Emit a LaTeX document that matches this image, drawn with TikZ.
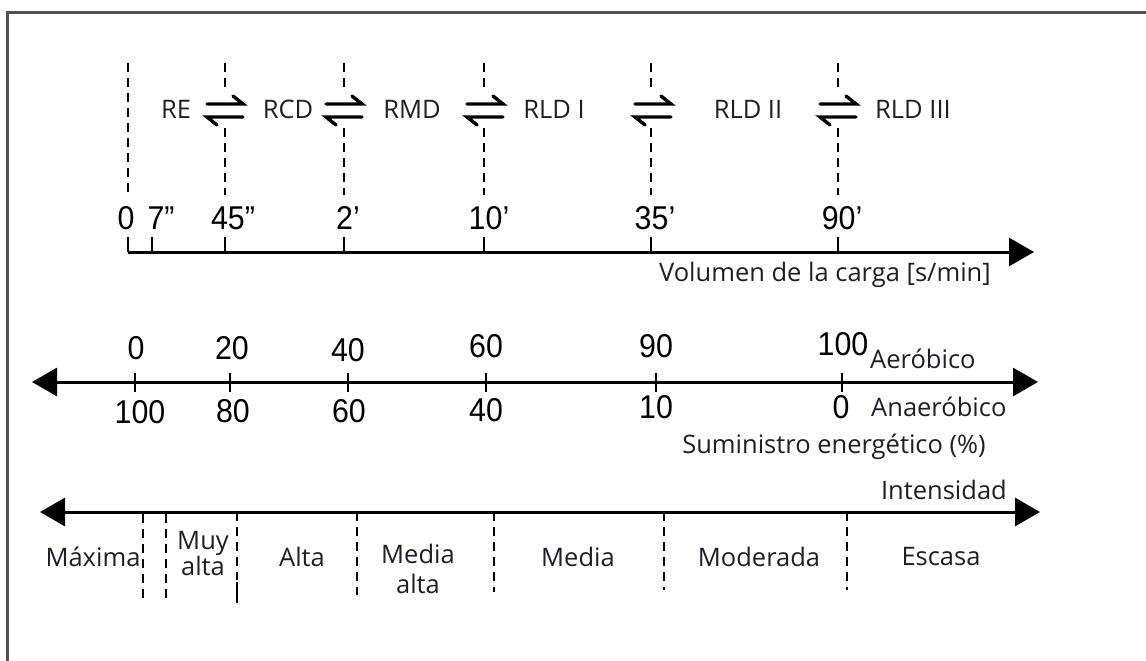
\documentclass[tikz,border=0pt]{standalone}
\usepackage{fontspec}
\setmainfont{Open Sans}
\newfontfamily\numfont[FakeStretch=0.92]{Liberation Sans}
\usetikzlibrary{arrows.meta}

\definecolor{ink}{HTML}{1E1E28}
\definecolor{frame}{HTML}{505050}

\begin{document}
\begin{tikzpicture}[x=1pt,y=-1pt,
  axisline/.style={line width=3pt,draw=black},
  onearrow/.style={-{Triangle[length=25pt,width=28pt]}},
  twoarrows/.style={{Triangle[length=25pt,width=28pt]}-{Triangle[length=25pt,width=28pt]}},
  tick/.style={line width=2.8pt,draw=black},
  dashline/.style={line width=2.8pt,draw=black,dash pattern=on 9pt off 6pt},
  harp/.style={line width=3.4pt,draw=black,line cap=round},
  num/.style={font=\fontsize{33}{35}\selectfont\numfont,text=black,inner sep=0pt},
  lbl/.style={font=\fontsize{25.5}{31}\selectfont,text=ink,inner sep=0pt,align=center},
]
\useasboundingbox (0,0) rectangle (1146,661);
% frame
\draw[line width=3pt,draw=frame] (7,661) -- (7,13) -- (1146,13);

% ---------------- load volume axis ----------------
\coordinate (v0) at (128,252);
\coordinate (vend) at (1034,252);
\draw[axisline,onearrow] (v0) -- (vend);
\foreach \x in {128,152,225,344,484,651,838}
  \draw[tick] (\x,252) -- (\x,237);

\node[num] (n0)  at (126,218) {0};
\node[num] (n7)  at (161,218) {7”};
\node[num] (n45) at (233,218) {45”};
\node[num] (n2)  at (348,218) {2’};
\node[num] (n10) at (489,218) {10’};
\node[num] (n35) at (655,218) {35’};
\node[num] (n90) at (842,218) {90’};

\node[lbl,anchor=east] (vol) at (991,275) {Volumen de la carga [s/min]};

% dashed boundaries between the systems
\draw[dashline] (128,63) -- (128,195);
\foreach \x in {225,344,484,651,838}{
  \draw[dashline] (\x,63) -- (\x,92);
  \draw[dashline] (\x,128) -- (\x,195);
}

% equilibrium harpoons
\foreach \x in {225,344,485,653,838}{
  \draw[harp] (\x-18,104) -- (\x+18,104) -- (\x+8,96);
  \draw[harp] (\x+18,117) -- (\x-18,117) -- (\x-8,125);
}

\node[lbl] (re)   at (176,109) {RE};
\node[lbl] (rcd)  at (288,109) {RCD};
\node[lbl] (rmd)  at (412,109) {RMD};
\node[lbl] (rld1) at (554,109) {RLD I};
\node[lbl] (rld2) at (748,109) {RLD II};
\node[lbl] (rld3) at (913,109) {RLD III};

% ---------------- energy supply axis ----------------
\coordinate (eL) at (32,382);
\coordinate (eR) at (1038,382);
\draw[axisline,twoarrows] (eL) -- (eR);
\foreach \x in {135,230,348,486,656,842}
  \draw[tick] (\x,373) -- (\x,392);

\node[num] (a0)   at (136,348) {0};
\node[num] (a20)  at (232,348) {20};
\node[num] (a40)  at (348,350) {40};
\node[num] (a60)  at (486,346) {60};
\node[num] (a90)  at (656,346) {90};
\node[num] (a100) at (843,344) {100};
\node[num] (b100) at (140,412) {100};
\node[num] (b80)  at (233,411) {80};
\node[num] (b60)  at (349,411) {60};
\node[num] (b40)  at (486,410) {40};
\node[num] (b10)  at (656,407) {10};
\node[num] (b0)   at (841,407) {0};

\node[lbl,anchor=west] (aer)  at (870,359) {Aeróbico};
\node[lbl,anchor=west] (anae) at (871,407) {Anaeróbico};
\node[lbl] (sum) at (834,447) {Suministro energético (\%)};

% ---------------- intensity axis ----------------
\coordinate (iL) at (40,512);
\coordinate (iR) at (1040,512);
\draw[axisline,twoarrows] (iL) -- (iR);
\node[lbl,anchor=east] (int) at (1007,490) {Intensidad};

\draw[line width=2.8pt] (143,512) -- (143,523);
\draw[line width=2.8pt] (166,512) -- (166,523);
\draw[dashline] (143,529) -- (143,600);
\draw[dashline] (166,529) -- (166,600);
\draw[dashline] (237,512) -- (237,580);
\draw[line width=1.2pt] (237,582) -- (237,603);
\foreach \x/\b in {357/595,494/592,664/590,847/590}
  \draw[dashline] (\x,512) -- (\x,\b);

\node[lbl] (imax) at (93,557)  {Máxima};
\node[lbl] (imuy) at (203,554) {Muy\\[-5pt]alta};
\node[lbl] (ialt) at (302,557) {Alta};
\node[lbl] (imea) at (418,569) {Media\\[-1pt]alta};
\node[lbl] (imed) at (578,557) {Media};
\node[lbl] (imod) at (759,557) {Moderada};
\node[lbl] (iesc) at (941,557) {Escasa};
\end{tikzpicture}
\end{document}
